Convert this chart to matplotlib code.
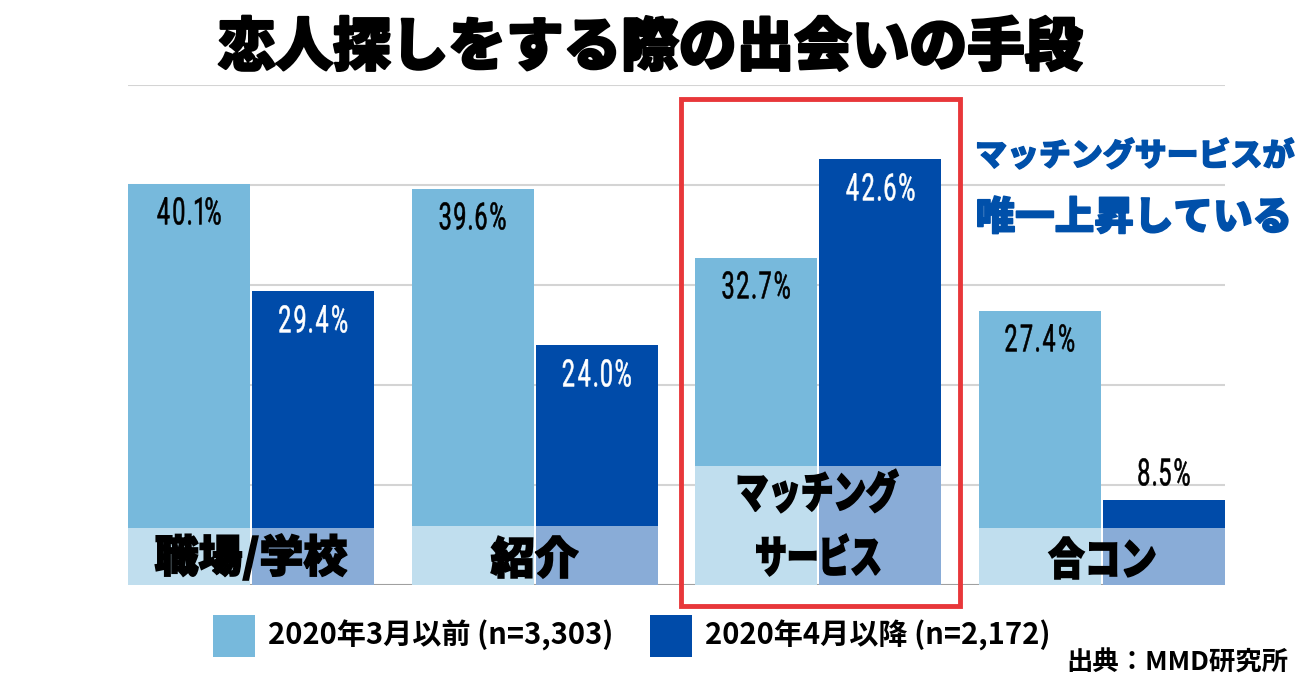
import matplotlib
matplotlib.use("Agg")
import matplotlib.pyplot as plt
from matplotlib.patches import Rectangle, PathPatch
from matplotlib.textpath import TextPath
from matplotlib.font_manager import FontProperties
from matplotlib.transforms import Affine2D, IdentityTransform
from matplotlib.path import Path
import matplotlib.patheffects as pe
import numpy as np

plt.rcParams['font.family'] = ['Noto Sans CJK JP', 'DejaVu Sans']

categories = ["職場/学校", "紹介", "マッチング\nサービス", "合コン"]
before = [40.1, 39.6, 32.7, 27.4]
after = [29.4, 24.0, 42.6, 8.5]
series_names = ["2020年3月以前 (n=3,303)", "2020年4月以降 (n=2,172)"]
title = "恋人探しをする際の出会いの手段"
note = "マッチングサービスが\n唯一上昇している"
source = "出典：MMD研究所"

LIGHT = "#77b9dc"
DARK = "#004ba9"
RED = "#e8373a"
BLUE_TXT = "#0050aa"

W, H = 1300, 683
fig = plt.figure(figsize=(W / 100, H / 100), dpi=100)


def fx(px):
    return px / W


def fy(py):
    return 1 - py / H


def draw_text(dx, dy, s, size_px, sx, family, weight, color, z=6,
              k=1.0, stroke=0.0):
    """Draw ink-centred text at display coords (dx, dy) with horizontal stretch sx."""
    fp = FontProperties(family=family, weight=weight)
    tp = TextPath((0, 0), s, size=size_px, prop=fp)
    ext = tp.get_extents()
    mx = (ext.x0 + ext.x1) / 2
    my = (ext.y0 + ext.y1) / 2
    tr = Affine2D().translate(-mx, -my).scale(sx * k, k).translate(dx, dy)
    path = tr.transform_path(tp)
    fig.add_artist(PathPatch(path, transform=IdentityTransform(), facecolor=color,
                             edgecolor=color if stroke > 0 else "none",
                             linewidth=stroke, zorder=z))


NUM_FAMILY, NUM_WEIGHT = "Roboto", "normal"
NUM_FP = FontProperties(family=NUM_FAMILY, weight=NUM_WEIGHT)
NUM_GAP = 4.2


def num_paths(s):
    """Per-character ink paths (unscaled) for a condensed, tracked number."""
    out = []
    for ch in s:
        tp = TextPath((0, 0), ch, size=40, prop=NUM_FP)
        out.append((tp, tp.get_extents()))
    return out


_cal = num_paths("40.1%")
_y0 = min(e.y0 for _, e in _cal)
_y1 = max(e.y1 for _, e in _cal)
NUM_K = 27.5 / (_y1 - _y0)
_sumw = sum(e.x1 - e.x0 for _, e in _cal)
NUM_SX = (63.0 - NUM_GAP * (len(_cal) - 1)) / (_sumw * NUM_K)


def draw_number(dx, dy, s, color):
    parts = num_paths(s)
    widths = [(e.x1 - e.x0) * NUM_SX * NUM_K for _, e in parts]
    total = sum(widths) + NUM_GAP * (len(parts) - 1)
    y0 = min(e.y0 for _, e in parts)
    y1 = max(e.y1 for _, e in parts)
    ymid = (y0 + y1) / 2
    cur = dx - total / 2
    verts, codes = [], []
    for (tp, e), w in zip(parts, widths):
        tr = Affine2D().translate(-e.x0, -ymid).scale(NUM_SX * NUM_K, NUM_K).translate(cur, dy)
        p = tr.transform_path(tp)
        if len(p.vertices):
            verts.append(p.vertices)
            codes.append(p.codes)
        cur += w + NUM_GAP
    path = Path(np.concatenate(verts), np.concatenate(codes))
    fig.add_artist(PathPatch(path, transform=IdentityTransform(), facecolor=color,
                             edgecolor=color, linewidth=0.4, zorder=6))


ax = fig.add_axes([fx(128), fy(585), fx(1225) - fx(128), fy(85) - fy(585)])
ax.set_xlim(-0.434, 3.434)
ax.set_ylim(0, 50)
for s in ax.spines.values():
    s.set_visible(False)
ax.set_xticks([])
ax.set_yticks([])
ax.set_facecolor("white")

for g in [10, 20, 30, 40, 50]:
    ax.axhline(g, color="#d4d4d4", lw=1.5, zorder=0)
ax.axhline(0, color="#a0a0a0", lw=1.5, zorder=0)

x = np.arange(len(categories))
off = 0.219
bw = 0.43
ax.bar(x - off, before, width=bw, color=LIGHT, zorder=2)
ax.bar(x + off, after, width=bw, color=DARK, zorder=2)

# label bands (semi-transparent white overlay)
band_h = [5.7, 5.9, 11.9, 5.7]
for i in range(len(categories)):
    for xc in (x[i] - off, x[i] + off):
        ax.add_patch(Rectangle((xc - bw / 2, 0), bw, band_h[i], facecolor="white",
                               alpha=0.54, edgecolor="none", zorder=3))

T = ax.transData

# value labels
for i in range(len(categories)):
    bx, by = T.transform((x[i] - off, before[i]))
    draw_number(bx, by - 27, f"{before[i]:.1f}%", "black")
    ax_, ay_ = T.transform((x[i] + off, after[i]))
    if after[i] > 15:
        draw_number(ax_, ay_ - 28, f"{after[i]:.1f}%", "white")
    else:
        draw_number(ax_, ay_ + 28, f"{after[i]:.1f}%", "black")

# category labels
CAT_SIZE = 44
cat_stretch = [[1.0], [1.0], [0.74, 0.72], [0.82]]
cat_offsets = [[28], [28], [94, 30], [27]]  # px above baseline (ink centre)
for i, c in enumerate(categories):
    lines = c.split("\n")
    gx, gy = T.transform((x[i], 0))
    for j, ln in enumerate(lines):
        draw_text(gx, gy + cat_offsets[i][j], ln, CAT_SIZE, cat_stretch[i][j],
                  "Noto Sans CJK JP", "heavy", "black", stroke=1.2)

# red highlight rectangle
fig.patches.append(Rectangle((fx(681), fy(606)), fx(960) - fx(681), fy(99) - fy(606),
                             transform=fig.transFigure, fill=False, edgecolor=RED,
                             linewidth=3.5, zorder=10))

# title
fig.text(0.5, fy(48), title, ha="center", va="center", fontsize=41.5,
         fontweight="heavy", color="black",
         path_effects=[pe.withStroke(linewidth=1.8, foreground="black")])

# annotation
n1, n2 = note.split("\n")
fig.text(fx(1135), fy(156), n1, ha="center", va="center", fontsize=23,
         fontweight="heavy", color=BLUE_TXT,
         path_effects=[pe.withStroke(linewidth=1.0, foreground=BLUE_TXT)])
fig.text(fx(1134), fy(218), n2, ha="center", va="center", fontsize=28.5,
         fontweight="heavy", color=BLUE_TXT,
         path_effects=[pe.withStroke(linewidth=1.2, foreground=BLUE_TXT)])

# legend
for (sx, col, lab) in [(213, LIGHT, series_names[0]), (650, DARK, series_names[1])]:
    fig.patches.append(Rectangle((fx(sx), fy(657)), fx(42), 42 / H,
                                 transform=fig.transFigure, facecolor=col,
                                 edgecolor="none"))
    fig.text(fx(sx + 55), fy(635), lab, ha="left", va="center", fontsize=21,
             fontweight="bold", color="black")

fig.text(fx(1288), fy(663), source, ha="right", va="center", fontsize=19,
         color="black", fontweight="bold")

fig.savefig("out.png", dpi=100, facecolor="white")
